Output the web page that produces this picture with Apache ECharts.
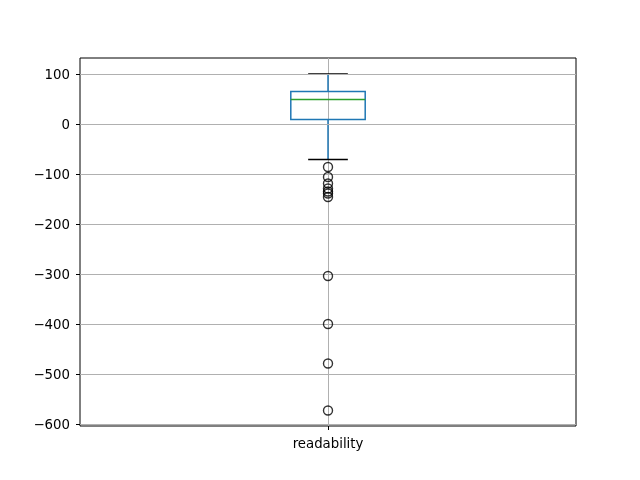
<!DOCTYPE html>
<html><head><meta charset="utf-8">
<script src="https://cdn.jsdelivr.net/npm/echarts@6/dist/echarts.min.js"></script>
<style>html,body{margin:0;padding:0;background:#fff}#c{width:640px;height:480px}</style>
</head><body><div id="c"></div>
<script>
const categories = ['readability'];
// [lower whisker, Q1, median, Q3, upper whisker]
const boxStats = [-71, 9, 49, 65, 100];
const outliers = [-86, -106, -119, -129, -135, -139, -146, -304, -400, -479, -573];
const yTicks = [-600, -500, -400, -300, -200, -100, 0, 100];

const chart = echarts.init(document.getElementById('c'), null, {renderer: 'canvas'});
const FONT = 'DejaVu Sans';
const boxHalf = 0.15;
const capHalf = 0.08;

chart.setOption({
  animation: false,
  grid: {left: 80, top: 58, right: 64, bottom: 54, show: true, borderColor: '#000', borderWidth: 1, backgroundColor: 'transparent'},
  xAxis: {
    type: 'value', min: 0, max: 2, interval: 1,
    axisLine: {show: true, onZero: false, lineStyle: {color: 'rgba(0,0,0,0)', width: 1}},
    axisTick: {show: true, customValues: [1], length: 4, lineStyle: {color: '#000', width: 1}},
    axisLabel: {customValues: [1], formatter: v => v === 1 ? categories[0] : '', color: '#000', fontFamily: FONT, fontSize: 13.3, margin: 12},
    splitLine: {show: true, lineStyle: {color: '#b0b0b0', width: 1}}
  },
  yAxis: {
    type: 'value', min: -604, max: 132,
    axisLine: {show: true, onZero: false, lineStyle: {color: 'rgba(0,0,0,0)', width: 1}},
    axisTick: {show: true, customValues: yTicks, length: 4, lineStyle: {color: '#000', width: 1}},
    axisLabel: {
      customValues: yTicks,
      formatter: v => '{a|' + (v < 0 ? '\u2212' + (-v) : String(v)) + '}',
      rich: {a: {color: '#000', fontFamily: FONT, fontSize: 13.3, padding: [4, 0, 0, 0]}},
      color: '#000', fontFamily: FONT, fontSize: 13.3, margin: 10
    },
    splitLine: {show: false}
  },
  series: [
    {
      type: 'line', data: [], silent: true,
      markLine: {
        silent: true, symbol: 'none', label: {show: false}, animation: false,
        lineStyle: {color: '#b0b0b0', width: 1, type: 'solid'},
        data: yTicks.map(v => ({yAxis: v}))
      }
    },
    {
      type: 'custom',
      data: [[1].concat(boxStats)],
      renderItem: function (params, api) {
        const x = api.value(0);
        const lo = api.value(1), q1 = api.value(2), med = api.value(3), q3 = api.value(4), hi = api.value(5);
        const pL = api.coord([x - boxHalf, q3]);
        const pR = api.coord([x + boxHalf, q1]);
        const c = api.coord([x, med]);
        const pLo = api.coord([x, lo]);
        const pHi = api.coord([x, hi]);
        const pQ1 = api.coord([x, q1]);
        const pQ3 = api.coord([x, q3]);
        const cl = api.coord([x - capHalf, lo]);
        const cr = api.coord([x + capHalf, lo]);
        const blue = '#1f77b4';
        return {
          type: 'group',
          children: [
            {type: 'line', shape: {x1: pHi[0], y1: pHi[1], x2: pQ3[0], y2: pQ3[1]}, style: {stroke: blue, lineWidth: 1.5}},
            {type: 'line', shape: {x1: pQ1[0], y1: pQ1[1], x2: pLo[0], y2: pLo[1]}, style: {stroke: blue, lineWidth: 1.5}},
            {type: 'rect', shape: {x: pL[0], y: pL[1], width: pR[0] - pL[0], height: pR[1] - pL[1]}, style: {fill: 'none', stroke: blue, lineWidth: 1.5}},
            {type: 'line', shape: {x1: pL[0], y1: c[1], x2: pR[0], y2: c[1]}, style: {stroke: '#2ca02c', lineWidth: 1.5}},
            {type: 'line', shape: {x1: cl[0], y1: pHi[1], x2: cr[0], y2: pHi[1]}, style: {stroke: '#000', lineWidth: 1.5}},
            {type: 'line', shape: {x1: cl[0], y1: pLo[1], x2: cr[0], y2: pLo[1]}, style: {stroke: '#000', lineWidth: 1.5}}
          ]
        };
      }
    },
    {
      type: 'scatter',
      data: outliers.map(v => [1, v]),
      symbol: 'circle', symbolSize: 9,
      itemStyle: {color: 'transparent', borderColor: '#000', borderWidth: 1.4},
      z: 5
    }
  ]
});
</script></body></html>
